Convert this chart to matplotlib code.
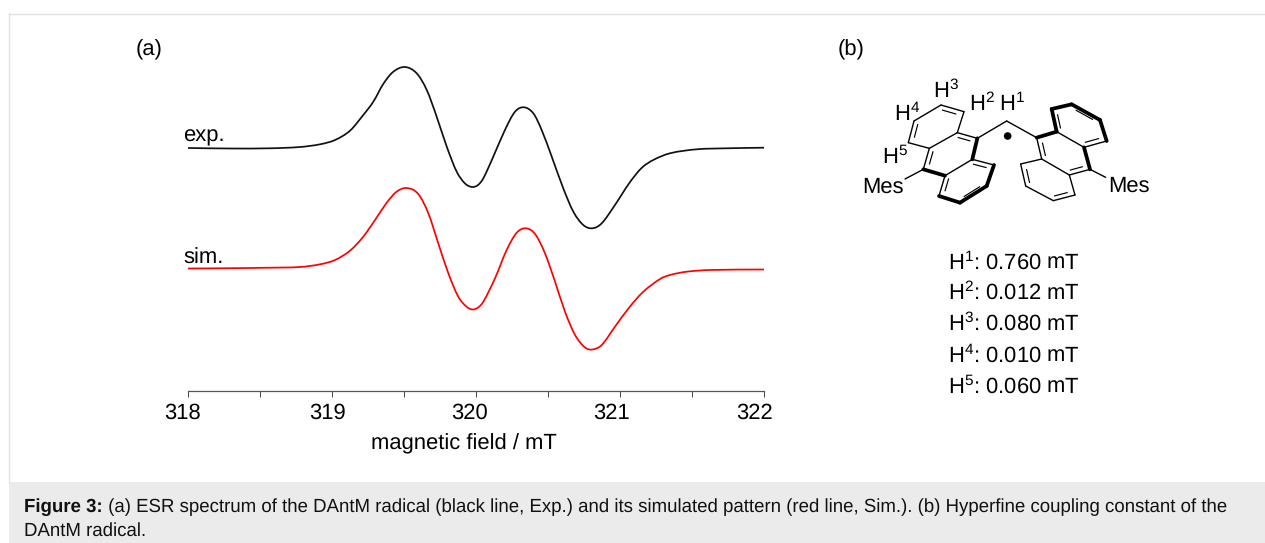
import matplotlib
matplotlib.use("Agg")
import matplotlib.pyplot as plt
from matplotlib.patches import Rectangle, Circle, PathPatch
from matplotlib.path import Path
from matplotlib.transforms import ScaledTranslation

plt.rcParams['font.family'] = ['Liberation Sans', 'DejaVu Sans']
plt.rcParams['mathtext.default'] = 'regular'
plt.rcParams['text.hinting'] = 'no_hinting'

# ---------- data ----------
exp_field = [318.000, 318.292, 318.569, 318.778, 318.917, 319.021, 319.125, 319.217, 319.287, 319.356, 319.426,
             319.507, 319.588, 319.658, 319.727, 319.797, 319.866, 319.924, 319.974, 320.014, 320.051, 320.120,
             320.201, 320.271, 320.333, 320.398, 320.456, 320.526, 320.606, 320.676, 320.745, 320.808, 320.873,
             320.965, 321.065, 321.150, 321.231, 321.347, 321.533, 321.741, 322.000]
exp_int = [0, -0.5, -0.3, 1, 3.7, 8, 17.3, 33, 46.3, 64, 76.3,
           81, 74.7, 58, 31.3, 1.3, -23.7, -35.5, -39, -37, -30.3, -8.7,
           18, 36.3, 40.7, 34.7, 18, -8.7, -40.3, -63.7, -77, -80.3, -75.3,
           -57, -35, -20, -12, -5.3, -1.3, -0.3, 0.3]

sim_field = [318.000, 318.292, 318.569, 318.778, 318.917, 319.021, 319.125, 319.217, 319.299, 319.380, 319.449,
             319.519, 319.599, 319.669, 319.738, 319.808, 319.877, 319.935, 319.977, 320.015, 320.051, 320.132,
             320.213, 320.283, 320.347, 320.410, 320.479, 320.549, 320.618, 320.688, 320.757, 320.808, 320.873,
             320.965, 321.065, 321.160, 321.278, 321.347, 321.463, 321.625, 322.000]
sim_int = [0, 0.3, 0.8, 1.5, 4.2, 8.5, 17.8, 31.8, 48.5, 65.8, 76.8,
           80.5, 74.5, 55.2, 25.2, -4.8, -28.2, -38.3, -41, -39, -33.2, -9.8,
           18.5, 35.8, 40.2, 34.5, 15.2, -13.2, -43.2, -66.5, -79, -81, -76.5,
           -58.2, -38.8, -23.5, -10.5, -6.5, -3.2, -1.5, -1]
sim_offset = -120.5

major_ticks = [318, 319, 320, 321, 322]
minor_ticks = [318.5, 319.5, 320.5, 321.5]
xlabel = "magnetic field / mT"
couplings = ["H$^{1}$: 0.760 mT", "H$^{2}$: 0.012 mT", "H$^{3}$: 0.080 mT", "H$^{4}$: 0.010 mT", "H$^{5}$: 0.060 mT"]

W, H = 1265, 543
fig = plt.figure(figsize=(W / 100, H / 100), dpi=100, facecolor='white')

# ---------- overlay in pixel coordinates ----------
ov = fig.add_axes([0, 0, 1, 1], zorder=0)
ov.set_xlim(0, W)
ov.set_ylim(H, 0)
ov.axis('off')
ov.plot([9, 9], [13, 482], color='#e2e2e2', lw=1.0)
ov.plot([9, W], [13.5, 13.5], color='#e2e2e2', lw=1.0)
ov.add_patch(Rectangle((9, 482), W - 9, 61, fc='#ebebeb', ec='none'))

cap_fs = 13.4
t1 = ov.text(24, 507, "Figure 3:", fontsize=cap_fs, fontweight='bold', va='center', color='#111111')
ov.annotate(" (a) ESR spectrum of the DAntM radical (black line, Exp.) and its simulated pattern (red line, Sim.). "
            "(b) Hyperfine coupling constant of the",
            xy=(1, 0), xycoords=t1, va='bottom', fontsize=cap_fs, color='#111111')
ov.text(24, 531, "DAntM radical.", fontsize=cap_fs, va='center', color='#111111')

lab_fs = 15.8
ov.text(149, 50, "(a)", fontsize=lab_fs, ha='center', va='center')
ov.text(851, 50, "(b)", fontsize=lab_fs, ha='center', va='center')
ov.text(204, 136, "exp.", fontsize=lab_fs, ha='center', va='center')
ov.text(203.5, 258, "sim.", fontsize=lab_fs, ha='center', va='center')
for lab, yy in zip(couplings, [262, 293, 324, 355, 386]):
    ov.text(948, yy, lab, fontsize=lab_fs, ha='left', va='center')

# ---------- structure sketch (zoom coordinates of the reference) ----------
def P(p):
    return (840 + p[0] / 3, 60 + p[1] / 3)

A = dict(a=(303, 135), b=(372, 155), c=(352, 218), d=(268, 265), e=(205, 248), f=(222, 183),
         g=(412, 235), h=(397, 298), i=(315, 347), j=(250, 328), k=(462, 315), l=(440, 378),
         m=(360, 428), n=(297, 408), ch=(500, 183), p=(590, 233), q=(650, 215), r=(635, 147),
         s=(695, 133), t=(780, 180), u=(800, 243), v=(732, 262), w=(750, 328), x=(688, 345),
         y=(605, 297), z=(542, 312), aa=(557, 378), bb=(640, 422), cc=(705, 405),
         me1=(195, 357), me2=(797, 352))
thin = [('a','b'),('b','c'),('c','d'),('d','e'),('e','f'),('f','a'),('c','g'),('h','i'),('j','d'),('h','k'),
        ('n','i'),('g','ch'),('ch','p'),('j','me1'),('w','me2'),('u','v'),('v','q'),('p','y'),('w','x'),('x','y'),
        ('y','z'),('z','aa'),('aa','bb'),('bb','cc'),('cc','x')]
bold = [('g','h'),('i','j'),('k','l'),('l','m'),('m','n'),('p','q'),('q','r'),('r','s'),('s','t'),('t','u'),('v','w')]
inner = [('a','b'),('e','f'),('c','g'),('j','d'),('h','k'),('n','i'),('l','m'),('p','y'),('u','v'),('w','x'),
         ('z','aa'),('bb','cc'),('q','r'),('s','t')]
rings = [['a','b','c','d','e','f'], ['c','g','h','i','j','d'], ['h','k','l','m','n','i'],
         ['q','r','s','t','u','v'], ['p','q','v','w','x','y'], ['y','z','aa','bb','cc','x']]

def center(key):
    for ring in rings:
        if key[0] in ring and key[1] in ring:
            xs = [A[n][0] for n in ring]
            ys = [A[n][1] for n in ring]
            return sum(xs) / 6, sum(ys) / 6

for u_, v_ in thin:
    p1, p2 = P(A[u_]), P(A[v_])
    ov.plot([p1[0], p2[0]], [p1[1], p2[1]], color='black', lw=1.0, solid_capstyle='round')
for u_, v_ in bold:
    p1, p2 = P(A[u_]), P(A[v_])
    ov.plot([p1[0], p2[0]], [p1[1], p2[1]], color='black', lw=2.7, solid_capstyle='round')
for key in inner:
    cx, cy = center(key)
    (x1, y1), (x2, y2) = A[key[0]], A[key[1]]
    f = 0.80
    sx1, sy1 = cx + (x1 - cx) * f, cy + (y1 - cy) * f
    sx2, sy2 = cx + (x2 - cx) * f, cy + (y2 - cy) * f
    m = 0.14
    ax_, ay_ = sx1 + (sx2 - sx1) * m, sy1 + (sy2 - sy1) * m
    bx_, by_ = sx2 + (sx1 - sx2) * m, sy2 + (sy1 - sy2) * m
    p1, p2 = P((ax_, ay_)), P((bx_, by_))
    ov.plot([p1[0], p2[0]], [p1[1], p2[1]], color='black', lw=0.85)
ov.add_patch(Circle(P((503, 228)), 3.8, fc='black', ec='none'))

chem_fs = 15.8
for s_, pos in [("H$^{3}$", (318, 90)), ("H$^{2}$", (425, 130)), ("H$^{1}$", (515, 130)),
                ("H$^{4}$", (200, 160)), ("H$^{5}$", (165, 290)), ("Mes", (130, 380)), ("Mes", (868, 378))]:
    px_, py_ = P(pos)
    ov.text(px_, py_, s_, fontsize=chem_fs, ha='center', va='center')

# ---------- spectrum ----------
ax = fig.add_axes([188 / W, 1 - 391 / H, 576 / W, 351 / H], zorder=1)
ax.patch.set_alpha(0)
ax.set_xlim(318, 322)
ax.set_ylim(148 - 391, 148 - 40)


def smooth_path(xs, ys):
    """Cubic segments through the read knots (drawing style only)."""
    n = len(xs)
    slopes = []
    for i in range(n):
        lo, hi = max(i - 1, 0), min(i + 1, n - 1)
        slopes.append((ys[hi] - ys[lo]) / (xs[hi] - xs[lo]))
    verts = [(xs[0], ys[0])]
    codes = [Path.MOVETO]
    for i in range(n - 1):
        d = (xs[i + 1] - xs[i]) / 3
        verts += [(xs[i] + d, ys[i] + slopes[i] * d),
                  (xs[i + 1] - d, ys[i + 1] - slopes[i + 1] * d),
                  (xs[i + 1], ys[i + 1])]
        codes += [Path.CURVE4] * 3
    return Path(verts, codes)


ax.add_patch(PathPatch(smooth_path(exp_field, exp_int), fill=False, ec='#111111', lw=1.25, label='exp.'))
ax.add_patch(PathPatch(smooth_path(sim_field, [v + sim_offset for v in sim_int]), fill=False, ec='#ff0000', lw=1.25, label='sim.'))

for sp in ['top', 'left', 'right']:
    ax.spines[sp].set_visible(False)
ax.spines['bottom'].set_color('#555555')
ax.spines['bottom'].set_linewidth(0.9)
ax.set_yticks([])
ax.set_xticks(major_ticks)
ax.set_xticks(minor_ticks, minor=True)
ax.tick_params(axis='x', which='both', length=4, width=0.7, color='#444444', labelsize=lab_fs, pad=4.5)
for lb, dx in zip(ax.get_xticklabels(), [-5, -4, -6, -8, -9]):
    lb.set_transform(lb.get_transform() + ScaledTranslation(dx / 100, 0, fig.dpi_scale_trans))
ov.text(464, 444, xlabel, fontsize=lab_fs, ha='center', va='center')

fig.savefig("out.png", dpi=100)
